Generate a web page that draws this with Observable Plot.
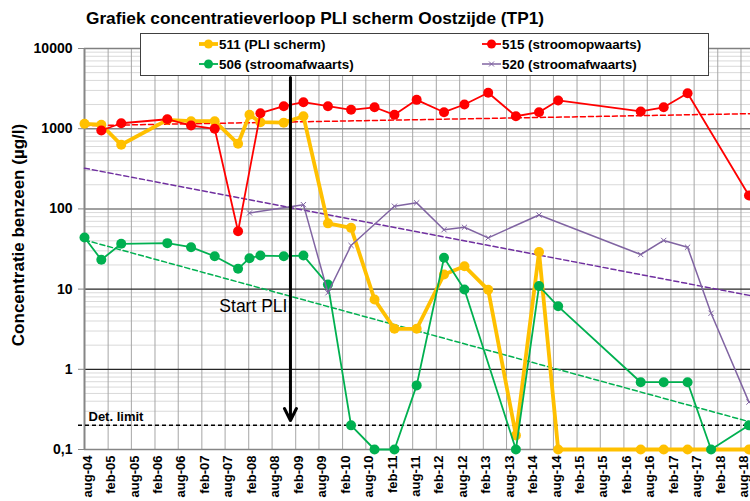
<!DOCTYPE html>
<html><head><meta charset="utf-8">
<script src="https://cdn.jsdelivr.net/npm/d3@7"></script>
<script src="https://cdn.jsdelivr.net/npm/@observablehq/plot@0.6"></script>
<style>
html,body{margin:0;padding:0;background:#fff;}
#chart svg{display:block;}
</style></head><body><div id="chart"></div>
<script>
// ---- tick labels ----
const xTickLabels = ["aug-04","feb-05","aug-05","feb-06","aug-06","feb-07","aug-07","feb-08","aug-08","feb-09","aug-09","feb-10","aug-10","feb-11","aug-11","feb-12","aug-12","feb-13","aug-13","feb-14","aug-14","feb-15","aug-15","feb-16","aug-16","feb-17","aug-17","feb-18","aug-18"];
const yTickValues = [0.1, 1, 10, 100, 1000, 10000];
const yTickLabels = ["0,1", "1", "10", "100", "1000", "10000"];

// ---- series ----
const seriesNames = ["511 (PLI scherm)", "515 (stroomopwaarts)", "506 (stroomafwaarts)", "520 (stroomafwaarts)"];

const dates511 = ["2004-08-01","2004-12-10","2005-05-14","2006-05-08","2006-11-09","2007-05-12","2007-11-10","2008-02-07","2008-05-02","2008-10-31","2009-04-02","2009-10-10","2010-04-08","2010-10-08","2011-03-12","2011-09-01","2012-04-01","2012-09-07","2013-03-11","2013-10-13","2014-04-11","2014-09-07","2016-06-11","2016-12-07","2017-06-11","2018-10-02"];
const values511 = [1150,1120,630,1290,1240,1240,648,1490,1205,1190,1430,66,58,7.4,3.2,3.2,15.2,19.3,9.8,0.15,29,0.1,0.1,0.1,0.1,0.1];

const dates515 = ["2004-12-10","2005-05-14","2006-05-08","2006-11-09","2007-05-12","2007-11-10","2008-05-02","2008-10-31","2009-04-02","2009-10-10","2010-04-08","2010-10-08","2011-03-12","2011-09-01","2012-04-01","2012-09-07","2013-03-11","2013-10-13","2014-04-11","2014-09-07","2016-06-11","2016-12-07","2017-06-11","2018-10-02"];
const values515 = [950,1170,1312,1096,998,52.7,1560,1910,2140,1910,1720,1850,1490,2290,1606,2005,2805,1430,1606,2250,1640,1850,2770,147];

const dates506 = ["2004-08-01","2004-12-10","2005-05-14","2006-05-08","2006-11-09","2007-05-12","2007-11-10","2008-02-07","2008-05-02","2008-10-31","2009-04-02","2009-10-10","2010-04-08","2010-10-08","2011-03-12","2011-09-01","2012-04-01","2012-09-07","2013-10-13","2014-04-11","2014-09-07","2016-06-11","2016-12-07","2017-06-11","2017-12-11","2018-10-02"];
const values506 = [44,23.2,36.7,37.4,33.3,25.7,17.9,24.3,26.2,25.7,26.2,11.4,0.2,0.1,0.1,0.63,24.6,9.9,0.1,10.9,6.1,0.69,0.69,0.69,0.1,0.2];

const dates520 = ["2008-02-07","2009-04-02","2009-10-10","2010-04-08","2011-03-12","2011-09-01","2012-04-01","2012-09-07","2013-03-11","2014-04-11","2016-06-11","2016-12-07","2017-06-11","2017-12-11","2018-10-02"];
const values520 = [89,113,9,35,108,119,55,59,43.6,84,27,40.4,33.3,5.0,0.39];

// trend lines (start / end values)
const trendDates = ["2004-08-01","2018-10-14"];
const trend515 = [1090, 1540];
const trend520 = [322, 8.3];
const trend506 = [41, 0.22];

const detLimit = 0.2;
const startPLIDate = "2008-12-22";
const arrowTop = 4350, arrowTip = 0.23, startPLILabelY = 6.1;

// ---- build tables ----
const parse = s => new Date(s + "T00:00:00Z");
const monthIdx = {jan:0,feb:1,mrt:2,apr:3,mei:4,jun:5,jul:6,aug:7,sep:8,okt:9,nov:10,dec:11};
const tickDates = xTickLabels.map(s => { const [m, y] = s.split("-"); return new Date(Date.UTC(2000 + (+y), monthIdx[m], 1)); });
const xLabelByTime = new Map(tickDates.map((d, i) => [+d, xTickLabels[i]]));
const yLabelByValue = new Map(yTickValues.map((v, i) => [v, yTickLabels[i]]));
const rows = (ds, vs) => ds.map((d, i) => ({date: parse(d), value: vs[i]}));
const s511 = rows(dates511, values511), s515 = rows(dates515, values515), s506 = rows(dates506, values506), s520 = rows(dates520, values520);
const t515 = rows(trendDates, trend515), t520 = rows(trendDates, trend520), t506 = rows(trendDates, trend506);
const minorTicks = [];
for (let e = -1; e < 4; e++) for (let k = 2; k <= 9; k++) minorTicks.push(k * Math.pow(10, e));

const colors = {o: "#FFC000", r: "#FF0000", g: "#00B050", p: "#8064A2", pd: "#7030A0"};
const xDomain = [parse("2004-08-01"), parse("2018-10-14")];
const FONT = "Arial, 'Liberation Sans', sans-serif";

const svgEl = Plot.plot({
  width: 750, height: 501,
  marginLeft: 84, marginRight: 0, marginTop: 48, marginBottom: 52,
  style: {fontFamily: FONT, background: "#fff", color: "#000"},
  x: {type: "utc", domain: xDomain},
  y: {type: "log", domain: [0.1, 10000]},
  marks: [
    Plot.gridY(minorTicks, {stroke: "#d9d9d9", strokeOpacity: 1, strokeWidth: 1}),
    Plot.gridX(tickDates, {stroke: "#a6a6a6", strokeOpacity: 1, strokeWidth: 1}),
    Plot.gridY([100, 1000, 10000], {stroke: "#808080", strokeOpacity: 1, strokeWidth: 1.5}),
    Plot.gridY([1, 10], {stroke: "#262626", strokeOpacity: 1, strokeWidth: 1.2}),
    Plot.ruleX([xDomain[0]], {stroke: "#868686", strokeWidth: 2}),
    Plot.ruleY([0.1], {stroke: "#868686", strokeWidth: 1.5}),
    Plot.axisY(yTickValues, {tickSize: 6, tickPadding: 6, stroke: "#868686", fontSize: 14, fontWeight: "bold", tickFormat: v => yLabelByValue.get(v), label: null}),
    Plot.axisX(tickDates, {tickSize: 0, tickPadding: 6, tickRotate: -90, dx: 3, fontSize: 13, fontWeight: "bold", tickFormat: d => xLabelByTime.get(+d), label: null}),
    // detection limit
    Plot.ruleY([detLimit], {stroke: "#000", strokeWidth: 1.5, strokeDasharray: "4,3", insetLeft: -6}),
    Plot.text(["Det. limit"], {x: () => xDomain[0], y: () => detLimit, dx: 4, dy: -9, textAnchor: "start", fontSize: 13, fontWeight: "bold"}),
    // trend lines
    Plot.line(t515, {x: "date", y: "value", stroke: colors.r, strokeWidth: 1.5, strokeDasharray: "5,3"}),
    Plot.line(t520, {x: "date", y: "value", stroke: colors.pd, strokeWidth: 1.5, strokeDasharray: "5,3"}),
    Plot.line(t506, {x: "date", y: "value", stroke: colors.g, strokeWidth: 1.5, strokeDasharray: "5,3"}),
    // series
    Plot.line(s511, {x: "date", y: "value", stroke: colors.o, strokeWidth: 3.8}),
    Plot.dot(s511, {x: "date", y: "value", fill: colors.o, r: 5}),
    Plot.line(s515, {x: "date", y: "value", stroke: colors.r, strokeWidth: 1.8}),
    Plot.dot(s515, {x: "date", y: "value", fill: colors.r, r: 5}),
    Plot.line(s506, {x: "date", y: "value", stroke: colors.g, strokeWidth: 1.8}),
    Plot.dot(s506, {x: "date", y: "value", fill: colors.g, r: 5}),
    Plot.line(s520, {x: "date", y: "value", stroke: colors.p, strokeWidth: 1.5}),
    Plot.dot(s520, {x: "date", y: "value", stroke: colors.p, symbol: "times", r: 2.5, strokeWidth: 1}),
    // start PLI arrow
    Plot.arrow([{d: parse(startPLIDate)}], {x1: "d", x2: "d", y1: () => arrowTop, y2: () => arrowTip, stroke: "#000", strokeWidth: 3, headLength: 6.7, headAngle: 53}),
    Plot.text(["Start PLI"], {x: () => parse(startPLIDate), y: () => startPLILabelY, dx: -3, textAnchor: "end", fontSize: 17.5, fill: "#000"})
  ]
});

document.getElementById("chart").appendChild(svgEl);
const svg = d3.select(svgEl);

// title
svg.append("text").attr("x", 315).attr("y", 24).attr("text-anchor", "middle")
  .attr("font-family", FONT)
  .attr("font-size", 17.3).attr("font-weight", "bold").attr("fill", "#000")
  .text("Grafiek concentratieverloop PLI scherm Oostzijde (TP1)");

// y title
svg.append("text").attr("transform", "translate(24,235) rotate(-90)").attr("text-anchor", "middle")
  .attr("font-family", FONT).attr("font-size", 17).attr("font-weight", "bold").attr("fill", "#000")
  .text("Concentratie benzeen (µg/l)");

// legend
const lg = svg.append("g");
lg.append("rect").attr("x", 140.5).attr("y", 33.5).attr("width", 568).attr("height", 42)
  .attr("fill", "#fff").attr("stroke", "#404040").attr("stroke-width", 1);
const legendItems = [
  {name: seriesNames[0], color: colors.o, x: 199, y: 44, w: 3.8, sym: "dot"},
  {name: seriesNames[1], color: colors.r, x: 482, y: 44, w: 1.8, sym: "dot"},
  {name: seriesNames[2], color: colors.g, x: 199, y: 64, w: 1.8, sym: "dot"},
  {name: seriesNames[3], color: colors.p, x: 482, y: 64, w: 1.5, sym: "x"}
];
for (const it of legendItems) {
  lg.append("line").attr("x1", it.x).attr("x2", it.x + 19).attr("y1", it.y).attr("y2", it.y)
    .attr("stroke", it.color).attr("stroke-width", it.w);
  if (it.sym === "dot") lg.append("circle").attr("cx", it.x + 9.5).attr("cy", it.y).attr("r", 4.5).attr("fill", it.color);
  else lg.append("path").attr("d", `M${it.x+7},${it.y-2.5}L${it.x+12},${it.y+2.5}M${it.x+7},${it.y+2.5}L${it.x+12},${it.y-2.5}`).attr("stroke", it.color).attr("stroke-width", 1);
  lg.append("text").attr("x", it.x + 20).attr("y", it.y + 5).attr("text-anchor", "start")
    .attr("font-family", FONT)
    .attr("font-size", 13.4).attr("font-weight", "bold").attr("fill", "#000").text(it.name);
}
</script></body></html>
